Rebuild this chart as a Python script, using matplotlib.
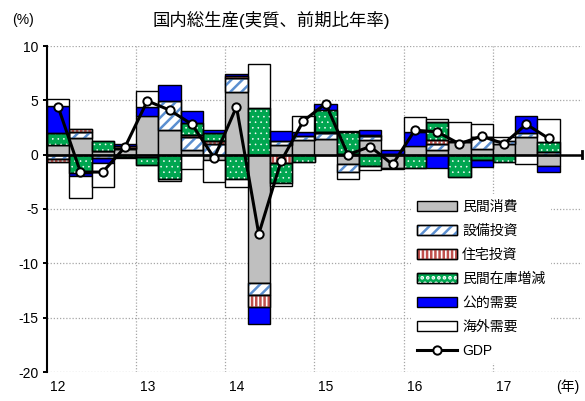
import numpy as np
import matplotlib
matplotlib.use("Agg")
import matplotlib.pyplot as plt
from matplotlib.patches import Patch

plt.rcParams['font.family'] = ['Liberation Sans', 'Noto Sans CJK JP']
plt.rcParams['hatch.linewidth'] = 1.8

# quarterly contributions, 2012Q1 - 2017Q3
consumption = [0.9, 1.55, 0.3, 0.5, 3.55, 2.25, 0.45, -0.45, 5.8, -11.85, 0.85, 1.35,
               1.45, -0.9, 1.35, -1.25, 0.8, 0.4, 1.2, 0.5, 1.0, 1.65, -1.0]
capex = [-0.4, 0.5, -0.35, 0.15, -0.25, 2.65, 1.2, 1.0, 1.3, -1.05, 0.45, 0.35,
         0.5, -0.7, 0.4, 0.05, 0.0, 0.6, 0.0, 1.1, 0.3, 0.3, 0.25]
housing = [-0.3, 0.35, 0.05, 0.15, 0.0, 0.0, 0.2, 0.3, 0.15, -1.15, -0.8, 0.0,
           0.15, 0.05, 0.1, 0.05, 0.0, 0.35, 0.1, 0.05, 0.0, 0.0, 0.0]
inventory = [1.05, -1.7, 0.95, -0.2, -0.7, -2.2, 1.05, 0.7, -2.25, 4.25, -1.85, -0.65,
             2.05, 2.05, -1.0, 0.0, -1.2, 1.65, -2.05, -0.5, -0.65, 0.0, 0.95]
public = [2.55, -0.3, -0.4, 0.2, 0.85, 1.5, 1.1, 0.25, 0.2, -1.5, 0.9, 0.35,
          0.5, 0.1, 0.4, 0.3, 1.25, -1.2, 0.0, -0.6, 0.0, 1.6, -0.55]
net_exports = [0.65, -1.95, -2.2, -0.1, 1.45, -0.2, -1.3, -2.05, -0.75, 4.05, -0.25, 1.55,
               -0.05, -0.6, -0.45, -0.1, 1.4, 0.3, 1.7, 1.15, 0.35, -0.9, 2.1]
gdp = [4.4, -1.6, -1.6, 0.7, 4.95, 4.1, 2.8, -0.3, 4.4, -7.3, -0.6, 3.1,
       4.7, 0.0, 0.75, -0.9, 2.25, 2.1, 1.0, 1.7, 1.0, 2.8, 1.5]

year_labels = ['12', '13', '14', '15', '16', '17']
names = ['民間消費', '設備投資', '住宅投資', '民間在庫増減', '公的需要', '海外需要']

# (values, face, hatch, hatch colour, hatch linewidth)
series = [
    (consumption, '#BFBFBF', None, None, None),
    (capex, 'white', '///', '#5B8FD0', 1.8),
    (housing, 'white', '||||', '#C0504D', 1.8),
    (inventory, '#00A650', '...', 'white', 0.4),
    (public, '#0000FF', None, None, None),
    (net_exports, 'white', None, None, None),
]


def set_hlw(patches, lw):
    for p in patches:
        if hasattr(p, 'set_hatch_linewidth'):
            p.set_hatch_linewidth(lw)


fig = plt.figure(figsize=(5.85, 4.01), dpi=100)
ax = fig.add_axes([47 / 585, 1 - 372 / 401, 535 / 585, 326 / 401])

x = np.arange(len(gdp))
pos = np.zeros(len(x))
neg = np.zeros(len(x))
handles = []
for vals, face, hatch, hc, hlw in series:
    v = np.array(vals)
    bottom = np.where(v >= 0, pos, neg)
    m = v != 0
    ax.bar(x[m], v[m], bottom=bottom[m], width=1.0, color=face,
           edgecolor='black', linewidth=1.0, zorder=2)
    h = [Patch(facecolor=face, edgecolor='black', linewidth=1.0)]
    if hatch:
        with plt.rc_context({'hatch.linewidth': hlw}):
            bars = ax.bar(x[m], v[m], bottom=bottom[m], width=1.0, facecolor='none',
                          edgecolor=hc, hatch=hatch, linewidth=0, zorder=2.1)
            hp = Patch(facecolor='none', edgecolor=hc, hatch=hatch, linewidth=0)
        set_hlw(bars, hlw)
        set_hlw([hp], hlw)
        ax.bar(x[m], v[m], bottom=bottom[m], width=1.0, fill=False,
               edgecolor='black', linewidth=1.0, zorder=2.2)
        h.append(hp)
        h.append(Patch(fill=False, edgecolor='black', linewidth=1.0))
    handles.append(tuple(h))
    pos += np.where(v > 0, v, 0)
    neg += np.where(v < 0, v, 0)

ax.axhline(0, color='black', lw=1.8, zorder=3)
ax.plot([23.5, 23.5], [-0.3, 0.3], color='black', lw=2, zorder=3, clip_on=False)

line, = ax.plot(x, gdp, color='black', lw=2.2, marker='o', ms=6,
                mfc='white', mec='black', mew=1.4, zorder=4)
handles.append(line)

ax.set_xlim(-0.5, 23.5)
ax.set_ylim(-20, 10)
ax.set_yticks([10, 5, 0, -5, -10, -15, -20])
ax.set_yticklabels(['10', '5', '0', '-5', '-10', '-15', '-20'])
ax.yaxis.grid(True, linestyle=(0, (1, 1.5)), color='#A6A6A6', lw=0.9)
for b in [3.5, 7.5, 11.5, 15.5, 19.5]:
    ax.axvline(b, linestyle=(0, (1, 1.5)), color='#A6A6A6', lw=0.9, zorder=0.5)
ax.set_axisbelow(True)

ax.set_xticks([0, 4, 8, 12, 16, 20])
ax.set_xticklabels(year_labels)
ax.tick_params(axis='x', length=0, pad=6, labelsize=10)
ax.tick_params(axis='y', direction='out', length=3, width=1.4, labelsize=10, pad=3)
for s in ['top', 'right', 'bottom']:
    ax.spines[s].set_visible(False)
ax.spines['left'].set_linewidth(1.5)

ax.text(22.87, -20.7, '(年)', ha='center', va='top', fontsize=10)

fig.text(271 / 585, 1 - 20 / 401, '国内総生産(実質、前期比年率)', ha='center',
         va='center', fontsize=12.5)
fig.text(23 / 585, 1 - 20 / 401, '(%)', ha='center', va='center', fontsize=10)

leg = ax.legend(handles, names + ['GDP'], loc='upper left',
                bbox_to_anchor=(0.681, 0.545), borderaxespad=0, borderpad=0.4,
                fontsize=10, handlelength=2.9, handleheight=0.72,
                labelspacing=0.72, handletextpad=0.36, frameon=True,
                fancybox=False, framealpha=1)
leg.get_frame().set_edgecolor('none')
leg.get_frame().set_facecolor('white')
leg.set_zorder(5)

fig.savefig('out.png', dpi=100)
